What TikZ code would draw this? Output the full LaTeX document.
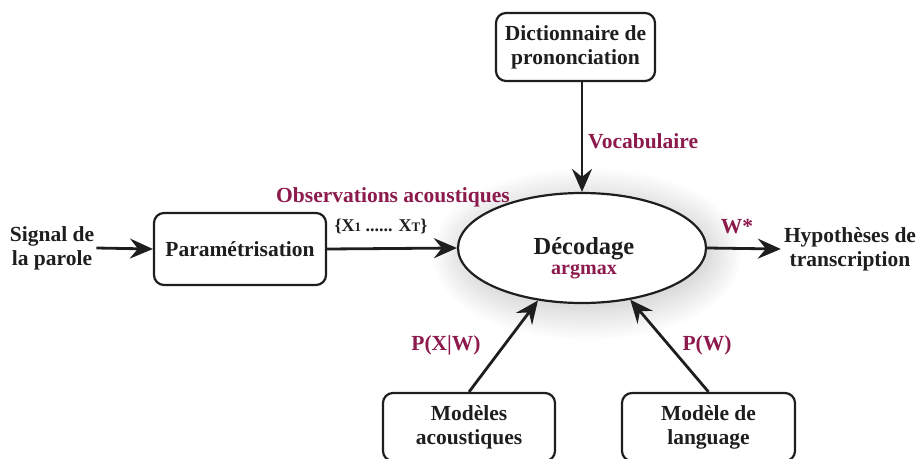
\documentclass[tikz,border=0pt]{standalone}
\usepackage{fontspec}
\setmainfont{Liberation Serif}
\usetikzlibrary{arrows.meta,shapes.geometric,shadows.blur}
\definecolor{lab}{RGB}{140,26,76}
\definecolor{ink}{RGB}{30,30,30}
\begin{document}
\begin{tikzpicture}[x=1pt,y=-1pt,
  box/.style={draw=ink, line width=2.2pt, rounded corners=10pt, align=center, text=ink,
    font=\fontsize{21.5}{24}\selectfont\bfseries, inner sep=0pt},
  arr/.style={draw=ink, -{Stealth[length=23pt,width=20pt,inset=8pt]}, line width=2.8pt},
  lbl/.style={text=lab, font=\fontsize{21.5}{23}\selectfont\bfseries, inner sep=0pt},
  txt/.style={align=center, text=ink, font=\fontsize{21.5}{24}\selectfont\bfseries, inner sep=0pt}]
\useasboundingbox (0,0) rectangle (920,458);

% nodes
\node[box, minimum width=159pt, minimum height=68pt] (dict) at (575.5,47) {Dictionnaire de\\prononciation};
\node[box, minimum width=172pt, minimum height=72pt] (param) at (240,249) {Paramétrisation};
\node[ellipse, draw=ink, line width=2.2pt, fill=white, minimum width=248pt, minimum height=110pt,
  blur shadow={shadow xshift=5pt, shadow yshift=-6pt, shadow blur radius=32pt, shadow opacity=25, shadow blur steps=40}] (dec) at (582,248) {};
\node[txt, font=\fontsize{24.5}{26}\selectfont\bfseries] (dtxt) at (584,249) {Décodage};
\node[lbl, font=\fontsize{20}{22}\selectfont\bfseries] (amax) at (584,272) {argmax};
\node[box, minimum width=172pt, minimum height=68pt] (ac) at (469,427) {Modèles\\acoustiques};
\node[box, minimum width=173pt, minimum height=68pt] (lang) at (708.5,427) {Modèle de\\language};
\node[txt] (sig) at (52,248) {Signal de\\la parole};
\node[txt] (hyp) at (850,249) {Hypothèses de\\transcription};

% labels
\node[lbl, anchor=west] (voc) at (588,141) {Vocabulaire};
\node[lbl] (obs) at (393,197) {Observations acoustiques};
\node[txt, font=\fontsize{18}{20}\selectfont\bfseries] (xs) at (381,226)
  {\{X{\fontsize{13}{13}\selectfont 1} ...... X{\fontsize{13}{13}\selectfont T}\}};
\node[lbl] (wst) at (737,227) {W*};
\node[lbl] (pxw) at (446,345) {P(X|W)};
\node[lbl] (pw) at (707,345) {P(W)};

% connectors
\coordinate (sige) at ([xshift=2pt]sig.east);
\draw[arr] (dec.north |- dict.south) -- (dec.north);
\draw[arr] (sige) -- (param.west);
\draw[arr] (param.east) -- (dec.west);
\draw[arr] (dec.east) -- ([xshift=-3pt]hyp.west);
\draw[arr] (ac.north) -- (dec.230);
\draw[arr] (lang.north) -- (dec.313);
\end{tikzpicture}
\end{document}
